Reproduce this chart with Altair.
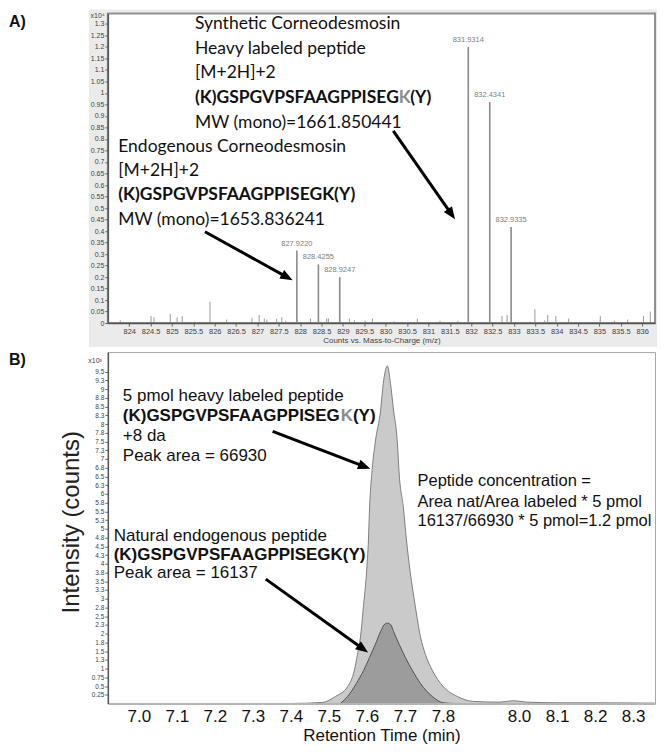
import math
import altair as alt
import pandas as pd

# ---------------- Panel A : mass spectrum (counts x10^4 vs m/z) ----------------
mz_major = [827.9220, 828.4255, 828.9247, 831.9314, 832.4341, 832.9335]
cnt_major = [0.315, 0.255, 0.20, 1.20, 0.96, 0.418]
lbl_major = ["827.9220", "828.4255", "828.9247", "831.9314", "832.4341", "832.9335"]

mz_minor = [823.79, 824.51, 824.58, 824.96, 825.12, 825.24, 825.54, 825.89, 826.28,
            826.87, 827.04, 827.16, 827.22, 827.45, 827.57, 827.66, 828.24, 828.62,
            828.66, 829.15, 829.27, 829.52, 829.69, 830.20, 830.74, 831.27, 831.69,
            832.72, 832.84, 833.37, 833.49, 833.72, 833.79, 833.98, 834.28, 835.02,
            835.35, 835.66, 836.03, 836.19]
cnt_minor = [0.012, 0.030, 0.025, 0.040, 0.025, 0.030, 0.006, 0.093, 0.015,
             0.022, 0.035, 0.020, 0.015, 0.018, 0.025, 0.010, 0.020, 0.020,
             0.020, 0.020, 0.012, 0.010, 0.020, 0.008, 0.020, 0.010, 0.010,
             0.030, 0.035, 0.006, 0.060, 0.012, 0.035, 0.030, 0.020, 0.030,
             0.010, 0.015, 0.030, 0.050]

mz_ticks = [824 + 0.5 * i for i in range(25)]
cntA_ticks = [round(0.05 * i, 2) for i in range(27)]

# annotation text (data coordinates of panel A)
A_syn_x = 825.538
A_syn_lines = ["Synthetic Corneodesmosin", "Heavy labeled peptide", "[M+2H]+2", "MW (mono)=1661.850441"]
A_syn_y = [1.300, 1.190, 1.085, 0.870]
A_syn_bold_y = 0.977
A_endo_x = 823.744
A_endo_lines = ["Endogenous Corneodesmosin", "[M+2H]+2", "MW (mono)=1653.836241"]
A_endo_y = [0.764, 0.660, 0.450]
A_endo_bold_y = 0.555
A_arrow_from = [(830.177, 0.835), (825.772, 0.397)]
A_arrow_to = [(831.622, 0.451), (827.823, 0.186)]

# ---------------- Panel B : chromatogram (intensity x10^3 vs retention time) ----------------
rt_heavy = [6.919, 7.400, 7.483, 7.517, 7.549, 7.567, 7.575, 7.583, 7.591, 7.599, 7.604, 7.607,
            7.614, 7.622, 7.636, 7.643, 7.654, 7.662, 7.670, 7.680, 7.685, 7.696, 7.704, 7.714,
            7.727, 7.741, 7.754, 7.772, 7.801, 7.838, 7.880, 7.950, 7.985, 8.020, 8.100, 8.200, 8.357]
int_heavy = [0.0, 0.0, 0.03, 0.20, 0.48, 0.95, 1.40, 1.90, 2.80, 3.75, 4.68, 5.60,
             6.72, 7.48, 8.40, 9.16, 9.66, 9.16, 8.40, 7.48, 6.55, 5.60, 4.68, 3.75,
             2.80, 1.90, 1.40, 0.95, 0.48, 0.20, 0.06, 0.04, 0.08, 0.04, 0.02, 0.02, 0.01]
rt_nat = [7.530, 7.549, 7.572, 7.591, 7.607, 7.622, 7.636, 7.645, 7.654, 7.663, 7.670, 7.685,
          7.701, 7.720, 7.741, 7.772, 7.801, 7.830]
int_nat = [0.0, 0.20, 0.57, 0.94, 1.32, 1.69, 2.06, 2.25, 2.30, 2.25, 2.06, 1.69,
           1.32, 0.94, 0.57, 0.20, 0.02, 0.0]

rt_ticks = [7.0, 7.1, 7.2, 7.3, 7.4, 7.5, 7.6, 7.7, 7.8, 8.0, 8.1, 8.2, 8.3]
intB_ticks = [round(0.25 * i, 2) for i in range(1, 39)]

B_heavy_x = 6.958
B_heavy_lines = ["5 pmol heavy labeled peptide", "+8 da", "Peak area = 66930"]
B_heavy_y = [8.80, 7.65, 7.07]
B_heavy_bold_y = 8.22
B_nat_x = 6.934
B_nat_lines = ["Natural endogenous peptide", "Peak area = 16137"]
B_nat_y = [4.79, 3.73]
B_nat_bold_y = 4.26
B_conc_x = 7.733
B_conc_lines = ["Peptide concentration =", "Area nat/Area labeled * 5 pmol", "16137/66930 * 5 pmol=1.2 pmol"]
B_conc_y = [6.36, 5.78, 5.21]
B_arrow_from = [(7.352, 7.79), (7.334, 3.56)]
B_arrow_to = [(7.609, 6.72), (7.603, 1.46)]

PEP_A = "(K)GSPGVPSFAAGPPISEG"
PEP_K = "K"
PEP_Y = "(Y)"
PEP_FULL = "(K)GSPGVPSFAAGPPISEGK(Y)"

# ---------------- layout / style ----------------
W = 548
HA = 310
HB = 352
A_X = [823.5, 836.3]
A_Y = [0, 1.345]
B_X = [6.9186, 8.3577]
B_Y = [0, 10.06]
FA = "Lato"
FB = "Liberation Sans"
HEAD = "M0,0L0.4,1L-0.4,1Z"

one = pd.DataFrame({"k": [0]})


def text_layer(xs, ys, txt, font, size, weight="normal", color="#111", dx=0):
    df = pd.DataFrame({"x": xs, "y": ys, "t": txt})
    return alt.Chart(df).mark_text(align="left", baseline="middle", font=font, fontSize=size,
                                   fontWeight=weight, color=color, dx=dx).encode(
        x="x:Q", y="y:Q", text="t:N")


def arrow_layers(frm, to, domx, domy, w, h, lw=3, head=620):
    pxx = w / (domx[1] - domx[0])
    pxy = h / (domy[1] - domy[0])
    rows = []
    for (a, b), (c, d) in zip(frm, to):
        dxp = (c - a) * pxx
        dyp = -(d - b) * pxy
        ang = math.degrees(math.atan2(dxp, -dyp)) % 360
        L = math.hypot(dxp, dyp)
        f = (L - 6) / L
        rows.append({"x": a, "y": b, "x2": a + (c - a) * f, "y2": b + (d - b) * f,
                     "hx": c, "hy": d, "ang": ang})
    df = pd.DataFrame(rows)
    line = alt.Chart(df).mark_rule(color="black", strokeWidth=lw).encode(
        x="x:Q", y="y:Q", x2="x2:Q", y2="y2:Q")
    tip = alt.Chart(df).mark_point(shape=HEAD, filled=True, color="black", opacity=1,
                                   size=head, strokeWidth=0).encode(
        x="hx:Q", y="hy:Q", angle=alt.Angle("ang:Q", scale=None))
    return [line, tip]


# ---------------- Panel A ----------------
xA = alt.X("x:Q", scale=alt.Scale(domain=A_X, nice=False, zero=False),
           axis=alt.Axis(values=mz_ticks, tickCount=len(mz_ticks), format="~g",
                         title="Counts vs. Mass-to-Charge (m/z)",
                         labelFont=FB, labelFontSize=7.5, labelColor="#444", labelPadding=1,
                         labelOverlap=False, labelFlush=False, tickSize=3, tickColor="#666",
                         domainColor="#555", domainWidth=1.5, grid=False, zindex=1,
                         titleFont=FB, titleFontSize=8, titleFontWeight="normal",
                         titleColor="#444", titlePadding=2))
yA = alt.Y("y:Q", scale=alt.Scale(domain=A_Y, nice=False),
           axis=alt.Axis(values=cntA_ticks, tickCount=len(cntA_ticks), format="~g", title=None,
                         labelFont=FB, labelFontSize=7, labelColor="#444", labelPadding=1,
                         labelOverlap=False, labelFlush=False, tickSize=3, tickColor="#666",
                         domainColor="#555", domainWidth=1.5, grid=False, zindex=1))

df_minor = pd.DataFrame({"x": mz_minor, "y": cnt_minor})
df_major = pd.DataFrame({"x": mz_major, "y": cnt_major, "t": lbl_major})

layersA = [
    alt.Chart(one).mark_rect(color="#ebebeb").encode(
        x=alt.value(-19), x2=alt.value(W + 2), y=alt.value(-4), y2=alt.value(HA + 24)),
    alt.Chart(one).mark_rect(color="white").encode(
        x=alt.value(0), x2=alt.value(W), y=alt.value(0), y2=alt.value(HA)),
    alt.Chart(df_minor).mark_rule(color="#9a9a9a", strokeWidth=1).encode(x=xA, y=yA, y2=alt.datum(0)),
    alt.Chart(df_major).mark_rule(color="#8a8a8a", strokeWidth=1.6).encode(x="x:Q", y="y:Q", y2=alt.datum(0)),
    alt.Chart(df_major).mark_text(baseline="bottom", dy=-3, font=FB, fontSize=7.5, color="#808080").encode(
        x="x:Q", y="y:Q", text="t:N"),
    text_layer([A_syn_x] * 4, A_syn_y, A_syn_lines, FA, 17.5),
    text_layer([A_syn_x], [A_syn_bold_y], [PEP_A], FA, 17.5, weight="bold"),
    text_layer([A_syn_x], [A_syn_bold_y], [PEP_K], FA, 17.5, weight="bold", color="#8c8c8c", dx=204),
    text_layer([A_syn_x], [A_syn_bold_y], [PEP_Y], FA, 17.5, weight="bold", dx=215.5),
    text_layer([A_endo_x] * 3, A_endo_y, A_endo_lines, FA, 17.5),
    text_layer([A_endo_x], [A_endo_bold_y], [PEP_FULL], FA, 17.5, weight="bold"),
] + arrow_layers(A_arrow_from, A_arrow_to, A_X, A_Y, W, HA) + [
    alt.Chart(one).mark_rect(fillOpacity=0, stroke="#8f8f8f", strokeWidth=2).encode(
        x=alt.value(0), x2=alt.value(W), y=alt.value(0), y2=alt.value(HA)),
    alt.Chart(one).mark_text(text="A)", align="left", baseline="middle", font=FB, fontSize=16,
                             fontWeight="bold", color="#111").encode(x=alt.value(-99), y=alt.value(8)),
    alt.Chart(one).mark_text(text="x10\u2074", align="right", baseline="middle", font=FB, fontSize=7,
                             color="#444").encode(x=alt.value(-3), y=alt.value(2)),
]
panelA = alt.layer(*layersA).properties(width=W, height=HA)

# ---------------- Panel B ----------------
xB = alt.X("x:Q", scale=alt.Scale(domain=B_X, nice=False, zero=False),
           axis=alt.Axis(values=rt_ticks, tickCount=len(rt_ticks), format=".1f",
                         title="Retention Time (min)",
                         labelFont=FB, labelFontSize=17, labelColor="#111", labelPadding=5,
                         labelOverlap=False, labelFlush=False, ticks=False,
                         domainColor="#b5b5b5", domainWidth=2, grid=False, zindex=1,
                         titleFont=FB, titleFontSize=17, titleFontWeight="normal",
                         titleColor="#111", titlePadding=3))
yB = alt.Y("y:Q", scale=alt.Scale(domain=B_Y, nice=False),
           axis=alt.Axis(values=intB_ticks, tickCount=len(intB_ticks), format="~g",
                         title="Intensity (counts)",
                         labelFont=FB, labelFontSize=6.5, labelColor="#444", labelPadding=1,
                         labelOverlap=False, labelFlush=False, tickSize=3, tickColor="#666",
                         domainColor="#555", domainWidth=1.5, grid=False, zindex=1,
                         titleFont=FB, titleFontSize=24, titleFontWeight="normal",
                         titleColor="#222", titleAngle=270, titleAlign="center",
                         titleBaseline="middle", titleX=-36, titleY=170))

df_heavy = pd.DataFrame({"x": rt_heavy, "y": int_heavy})
df_nat = pd.DataFrame({"x": rt_nat, "y": int_nat})

DK_B = 218.2
DY_B = 230.5
layersB = [
    alt.Chart(df_heavy).mark_area(color="#cacaca", stroke="#7d7d7d", strokeWidth=1,
                                  interpolate="monotone").encode(x=xB, y=yB),
    alt.Chart(df_nat).mark_area(color="#9c9c9c", stroke="#505050", strokeWidth=1,
                                interpolate="monotone").encode(x="x:Q", y="y:Q"),
    text_layer([B_heavy_x] * 3, B_heavy_y, B_heavy_lines, FB, 17),
    text_layer([B_heavy_x], [B_heavy_bold_y], [PEP_A], FB, 17, weight="bold"),
    text_layer([B_heavy_x], [B_heavy_bold_y], [PEP_K], FB, 17, weight="bold", color="#8c8c8c", dx=DK_B),
    text_layer([B_heavy_x], [B_heavy_bold_y], [PEP_Y], FB, 17, weight="bold", dx=DY_B),
    text_layer([B_nat_x] * 2, B_nat_y, B_nat_lines, FB, 17),
    text_layer([B_nat_x], [B_nat_bold_y], [PEP_FULL], FB, 17, weight="bold"),
    text_layer([B_conc_x] * 3, B_conc_y, B_conc_lines, FB, 16.5),
] + arrow_layers(B_arrow_from, B_arrow_to, B_X, B_Y, W, HB) + [
    alt.Chart(one).mark_text(text="B)", align="left", baseline="middle", font=FB, fontSize=16,
                             fontWeight="bold", color="#111").encode(x=alt.value(-99), y=alt.value(8)),
    alt.Chart(one).mark_text(text="x10\u00b3", align="right", baseline="middle", font=FB, fontSize=7,
                             color="#444").encode(x=alt.value(-6), y=alt.value(9)),
]
panelB = alt.layer(*layersB).properties(width=W, height=HB)

chart = alt.vconcat(panelA, panelB, spacing=3).properties(padding=0).configure_view(
    stroke="#a8a8a8", strokeWidth=1).configure_axis(labelOverlap=False, labelSeparation=0)

chart.save("out.html", embed_options={"renderer": "svg", "actions": False})
